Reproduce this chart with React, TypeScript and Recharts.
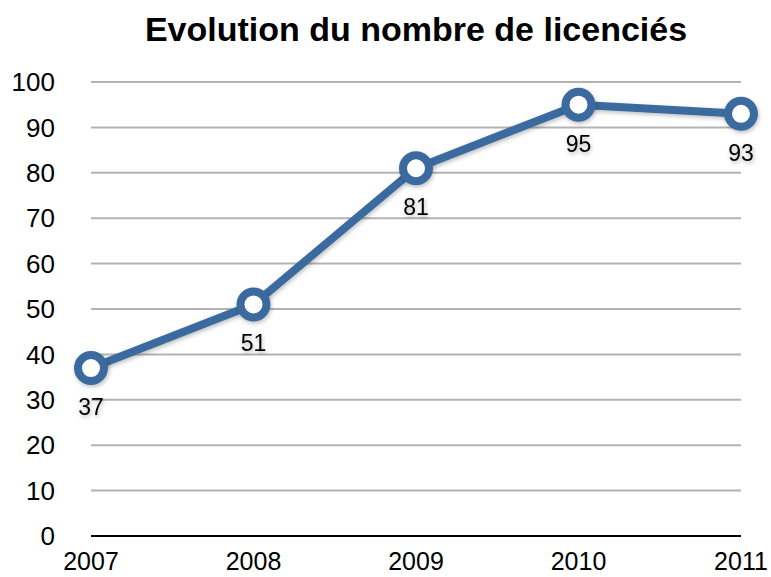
import React from 'react';
import { LineChart, Line, XAxis, YAxis, CartesianGrid, LabelList } from 'recharts';

const years = ['2007', '2008', '2009', '2010', '2011'];
const licencies = [37, 51, 81, 95, 93];
const yTicks = [0, 10, 20, 30, 40, 50, 60, 70, 80, 90, 100];
const title = 'Evolution du nombre de licenciés';

const data = years.map((y, i) => ({ year: y, value: licencies[i] }));

const COLOR = '#3B6A9F';
const FONT = '"Liberation Sans", Arial, Helvetica, sans-serif';

const DataLabel = (props: any) => {
  const { x, y, value } = props;
  return (
    <text
      x={x}
      y={y + 39}
      textAnchor="middle"
      dominantBaseline="central"
      fontSize={23}
      fontFamily={FONT}
      fill="#000"
      filter="url(#txtShadow)"
    >
      {value}
    </text>
  );
};

export default function App() {
  return (
    <div style={{ position: 'absolute', left: 0, top: 0, width: 771, height: 577, background: '#fff' }}>
      <svg width={0} height={0} style={{ position: 'absolute' }}>
        <defs>
          <filter id="lineShadow" x="-20%" y="-20%" width="140%" height="140%">
            <feDropShadow dx="1" dy="2" stdDeviation="2" floodColor="#000" floodOpacity="0.25" />
          </filter>
          <filter id="txtShadow" x="-30%" y="-30%" width="160%" height="160%">
            <feDropShadow dx="1" dy="2" stdDeviation="2" floodColor="#000" floodOpacity="0.3" />
          </filter>
        </defs>
      </svg>
      <style>{`.recharts-line-curve{filter:url(#lineShadow)} .recharts-line-dots{filter:url(#lineShadow)}`}</style>
      <div
        style={{
          position: 'absolute',
          left: 91,
          width: 650,
          top: 12,
          textAlign: 'center',
          fontFamily: FONT,
          fontWeight: 'bold',
          fontSize: 34,
          lineHeight: '34px',
          color: '#000',
          whiteSpace: 'nowrap',
        }}
      >
        {title}
      </div>
      <LineChart width={771} height={577} data={data} margin={{ top: 82, right: 30, left: 0, bottom: 0 }}>
        <CartesianGrid vertical={false} stroke="#b3b3b3" strokeWidth={2} />
        <XAxis
          dataKey="year"
          height={41}
          axisLine={{ stroke: '#000', strokeWidth: 2 }}
          tickLine={false}
          tickSize={14}
          tickMargin={2}
          interval={0}
          tick={{ fontSize: 25, fill: '#000', fontFamily: FONT }}
        />
        <YAxis
          width={91}
          domain={[0, 100]}
          ticks={yTicks}
          interval={0}
          axisLine={false}
          tickLine={false}
          tickSize={34}
          tickMargin={2}
          tick={{ fontSize: 26, fill: '#000', fontFamily: FONT }}
        />
        <Line
          type="linear"
          dataKey="value"
          stroke={COLOR}
          strokeWidth={8}
          dot={{ r: 13, fill: '#fff', stroke: COLOR, strokeWidth: 8 }}
          activeDot={false}
          isAnimationActive={false}
        >
          <LabelList dataKey="value" content={<DataLabel />} />
        </Line>
      </LineChart>
    </div>
  );
}
